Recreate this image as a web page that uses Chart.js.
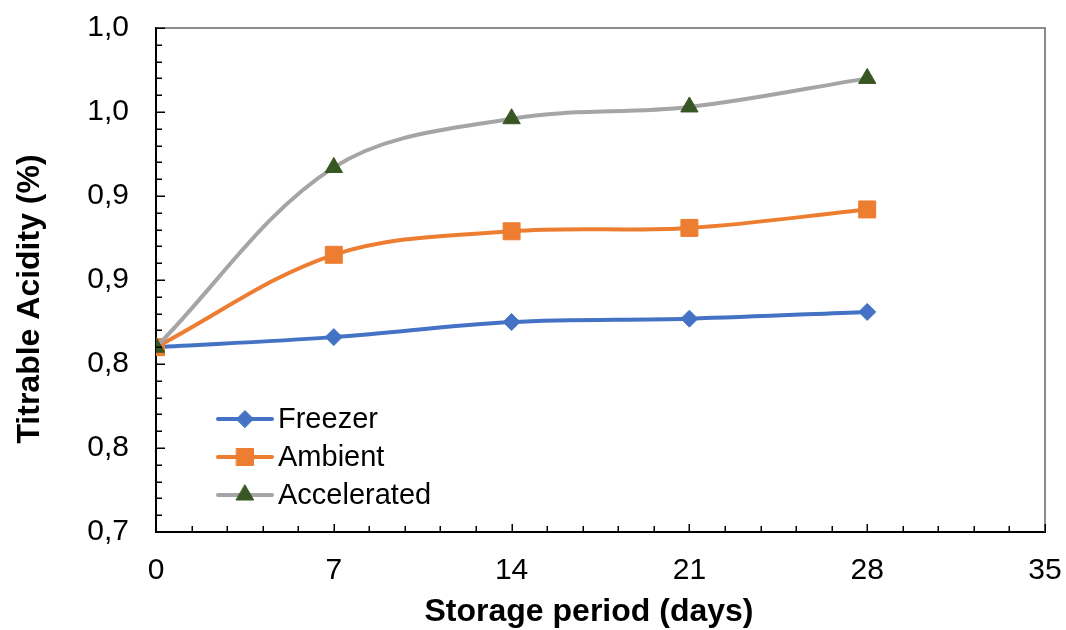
<!DOCTYPE html>
<html><head><meta charset="utf-8">
<script src="https://cdn.jsdelivr.net/npm/chart.js@4"></script>
<style>html,body{margin:0;padding:0;background:#fff;}#wrap{width:1066px;height:630px;}</style>
</head><body><div id="wrap"><canvas id="c" width="1066" height="630"></canvas></div>
<script>
const days = [0, 7, 14, 21, 28];
const freezer = [0.810, 0.816, 0.825, 0.827, 0.831];
const ambient = [0.810, 0.865, 0.879, 0.881, 0.892];
const accelerated = [0.810, 0.917, 0.946, 0.953, 0.970];
const seriesNames = ['Freezer', 'Ambient', 'Accelerated'];
const yTickLabels = ['0,7', '0,8', '0,8', '0,9', '0,9', '1,0', '1,0'];
const xTickLabels = ['0', '7', '14', '21', '28', '35'];
const xTitle = 'Storage period (days)';
const yTitle = 'Titrable Acidity (%)';

const FONT = '"Liberation Sans", Arial, sans-serif';
Chart.defaults.font.family = FONT;
Chart.defaults.color = '#000';

function pts(vals) { return days.map((d, i) => ({x: d, y: vals[i]})); }

const frame = {
  id: 'frame',
  beforeDatasetsDraw(chart) {
    const {ctx, chartArea: a} = chart;
    ctx.save();
    ctx.strokeStyle = '#8c8c8c';
    ctx.lineWidth = 2;
    ctx.beginPath();
    ctx.moveTo(a.left, a.top);
    ctx.lineTo(a.right, a.top);
    ctx.lineTo(a.right, a.bottom);
    ctx.stroke();
    ctx.restore();
  },
  afterDraw(chart) {
    const {ctx, chartArea: a} = chart;
    const xs = chart.scales.x, ys = chart.scales.y;
    ctx.save();
    ctx.strokeStyle = '#000';
    ctx.lineWidth = 1.5;
    ctx.beginPath();
    for (let i = 0; i <= 30; i++) {
      const py = Math.round(ys.getPixelForValue(0.7 + i * 0.01)) + 0.25;
      const len = i % 5 === 0 ? 9 : 6;
      ctx.moveTo(a.left, py); ctx.lineTo(a.left + len, py);
    }
    for (let i = 0; i <= 25; i++) {
      const px = Math.round(xs.getPixelForValue(i * 1.4)) + 0.25;
      const len = i % 5 === 0 ? 8 : 6;
      ctx.moveTo(px, a.bottom); ctx.lineTo(px, a.bottom - len);
    }
    ctx.stroke();
    // axis titles
    ctx.fillStyle = '#000';
    ctx.font = 'bold 32px ' + FONT;
    ctx.textAlign = 'center';
    ctx.textBaseline = 'middle';
    ctx.fillText(xTitle, a.left + 433, a.bottom + 80);
    ctx.save();
    ctx.translate(30, a.top + 271);
    ctx.rotate(-Math.PI / 2);
    ctx.fillText(yTitle, 0, 0);
    ctx.restore();
    // legend
    const lx = a.left + 62, ly0 = a.top + 391, dy = 38;
    chart.data.datasets.forEach((ds, i) => {
      const y = ly0 + i * dy;
      ctx.strokeStyle = ds.borderColor;
      ctx.lineWidth = ds.borderWidth;
      ctx.lineCap = 'round';
      ctx.beginPath(); ctx.moveTo(lx, y); ctx.lineTo(lx + 54, y); ctx.stroke();
      ctx.fillStyle = ds.pointBackgroundColor;
      ctx.strokeStyle = ds.pointBorderColor;
      ctx.lineWidth = ds.pointBorderWidth;
      Chart.helpers.drawPoint(ctx, {pointStyle: ds.pointStyle, radius: ds.pointRadius, borderWidth: ds.pointBorderWidth, rotation: 0}, lx + 27, y);
      ctx.fillStyle = '#000';
      ctx.font = '29px ' + FONT;
      ctx.textBaseline = 'middle';
      ctx.textAlign = 'left';
      ctx.fillText(ds.label, lx + 60, y + 1);
    });
    ctx.restore();
  }
};

new Chart(document.getElementById('c'), {
  type: 'line',
  data: {
    datasets: [
      {label: seriesNames[0], data: pts(freezer), borderColor: '#4472C4', borderWidth: 4,
       pointStyle: 'rectRot', pointRadius: 8.5, pointBackgroundColor: '#4472C4', pointBorderColor: '#4472C4', pointBorderWidth: 1, order: 2},
      {label: seriesNames[1], data: pts(ambient), borderColor: '#ED7D31', borderWidth: 4,
       pointStyle: 'rect', pointRadius: 12, pointBackgroundColor: '#ED7D31', pointBorderColor: '#ED7D31', pointBorderWidth: 1, order: 1},
      {label: seriesNames[2], data: pts(accelerated), borderColor: '#A5A5A5', borderWidth: 4,
       pointStyle: 'triangle', pointRadius: 10, pointBackgroundColor: '#375623', pointBorderColor: '#375623', pointBorderWidth: 1, order: 0}
    ]
  },
  options: {
    responsive: false,
    animation: false,
    devicePixelRatio: 1,
    elements: {line: {tension: 0.35}},
    layout: {padding: {left: 0, right: 21, top: 28, bottom: 0}},
    plugins: {legend: {display: false}, tooltip: {enabled: false}},
    scales: {
      x: {
        type: 'linear', min: 0, max: 35,
        afterFit(s) { s.height = 98; s.paddingLeft = 0; s.paddingRight = 0; },
        grid: {display: false, drawTicks: false},
        border: {display: true, color: '#000', width: 2},
        ticks: {stepSize: 7, font: {size: 30}, color: '#000', padding: 21, maxRotation: 0,
                callback: (v, i) => xTickLabels[i]},
        title: {display: false, text: xTitle}
      },
      y: {
        type: 'linear', min: 0.7, max: 1.0,
        afterFit(s) { s.width = 156; s.paddingTop = 0; s.paddingBottom = 0; },
        grid: {display: false, drawTicks: false},
        border: {display: true, color: '#000', width: 2},
        ticks: {stepSize: 0.05, font: {size: 30}, color: '#000', padding: 27,
                callback: (v, i) => yTickLabels[i]},
        title: {display: false, text: yTitle}
      }
    }
  },
  plugins: [frame]
});
</script>
</body></html>
